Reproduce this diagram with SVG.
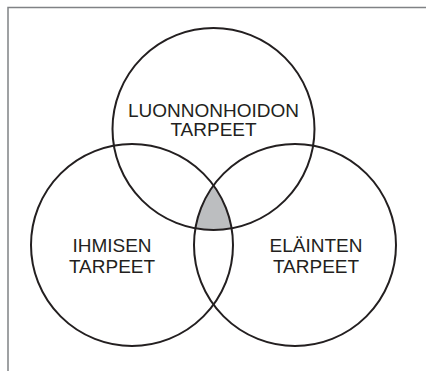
<svg xmlns="http://www.w3.org/2000/svg" width="426" height="371" viewBox="0 0 426 371">
<style>
.frame{fill:none;stroke:#808285;stroke-width:1.5}
.c{fill:none;stroke:#231f20;stroke-width:2}
.t{font-family:"Liberation Sans",Arial,sans-serif;font-size:19px;fill:#231f20;text-anchor:middle}
</style>
<rect width="426" height="371" fill="#ffffff"/>
<path class="frame" d="M8 371V7.5H426"/>
<g id="overlap">
<path d="M213.5 185.3A101 101 0 0 1 231.6 228.4A101 101 0 0 1 195.4 228.4A101 101 0 0 1 213.5 185.3Z" fill="#bcbec0" stroke="none"/>
</g>
<g id="luonnonhoidon">
<circle class="c" cx="213.5" cy="129" r="101"/>
<text class="t" x="213.5" y="117">LUONNONHOIDON</text>
<text class="t" x="213.5" y="136">TARPEET</text>
</g>
<g id="ihmisen">
<circle class="c" cx="132" cy="245" r="101"/>
<text class="t" x="112" y="252">IHMISEN</text>
<text class="t" x="112" y="273">TARPEET</text>
</g>
<g id="elainten">
<circle class="c" cx="295" cy="245" r="101"/>
<text class="t" x="316" y="252">ELÄINTEN</text>
<text class="t" x="316" y="273">TARPEET</text>
</g>
<g id="connectors"/>
</svg>
